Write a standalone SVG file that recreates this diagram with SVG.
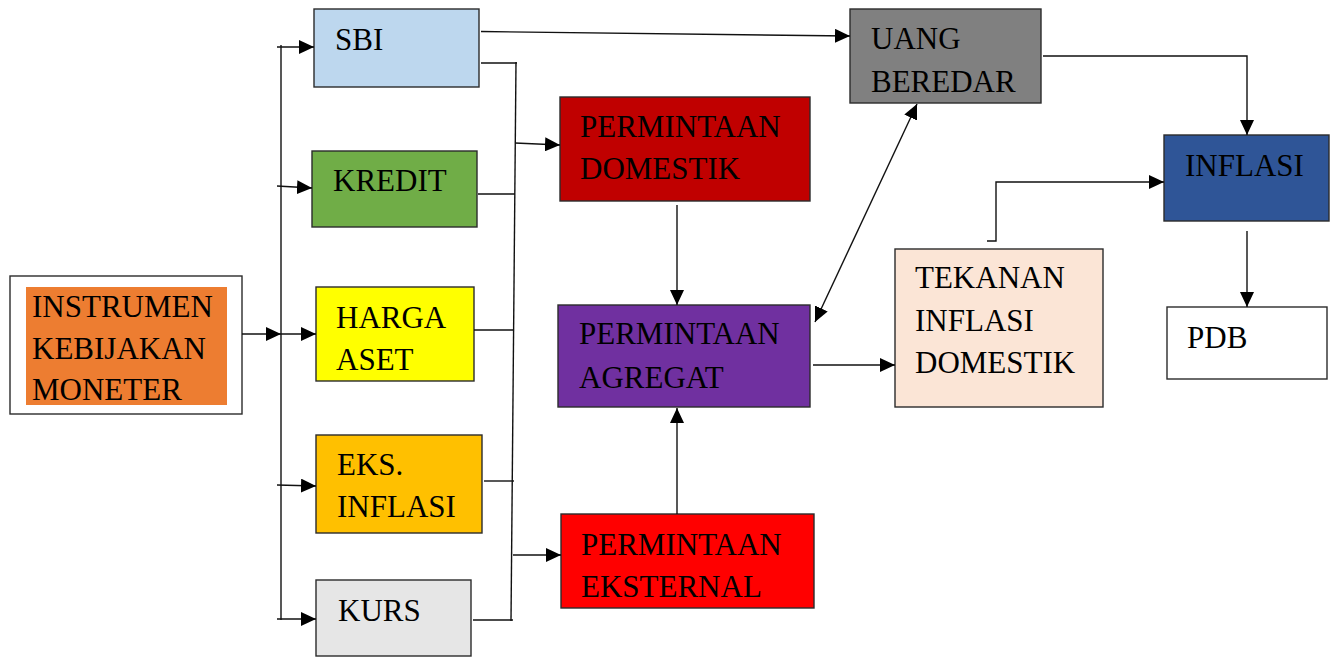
<svg xmlns="http://www.w3.org/2000/svg" width="1331" height="657" viewBox="0 0 1331 657">
<style>
.box{stroke:#2b2b2b;stroke-width:1.4}
text{font-size:31px;fill:#000}
.c{fill:none;stroke:#111;stroke-width:1.4}
</style>
<defs>
<marker id="ah" markerUnits="userSpaceOnUse" markerWidth="15" markerHeight="14" refX="15" refY="7" orient="auto-start-reverse" viewBox="0 0 15 14">
<path d="M0,0 L15,7 L0,14 z" fill="#000"/>
</marker>
</defs>
<rect width="1331" height="657" fill="#fff"/>
<g font-family="Times New Roman, Liberation Serif, serif">
<g id="instrumen">
<rect class="box" x="10" y="276" width="232" height="138" fill="#fff"/>
<rect x="26" y="287" width="201" height="118" fill="#ED7D31"/>
<text x="32" y="317">INSTRUMEN</text>
<text x="32" y="359">KEBIJAKAN</text>
<text x="32" y="400">MONETER</text>
</g>
<g id="sbi">
<rect class="box" x="314" y="9" width="165" height="78" fill="#BDD7EE"/>
<text x="335" y="50">SBI</text>
</g>
<g id="kredit">
<rect class="box" x="312" y="151" width="165" height="76" fill="#70AD47"/>
<text x="333" y="191">KREDIT</text>
</g>
<g id="harga-aset">
<rect class="box" x="316" y="287" width="158" height="94" fill="#FFFF00"/>
<text x="336" y="328">HARGA</text>
<text x="336" y="370">ASET</text>
</g>
<g id="eks-inflasi">
<rect class="box" x="316" y="435" width="166" height="98" fill="#FFC000"/>
<text x="337" y="475">EKS.</text>
<text x="337" y="517">INFLASI</text>
</g>
<g id="kurs">
<rect class="box" x="316" y="580" width="155" height="76" fill="#E6E6E6"/>
<text x="338" y="621">KURS</text>
</g>
<g id="permintaan-domestik">
<rect class="box" x="560" y="97" width="250" height="104" fill="#C00000"/>
<text x="580" y="137">PERMINTAAN</text>
<text x="580" y="179">DOMESTIK</text>
</g>
<g id="permintaan-agregat">
<rect class="box" x="558" y="305" width="252" height="102" fill="#7030A0"/>
<text x="579" y="344">PERMINTAAN</text>
<text x="579" y="388">AGREGAT</text>
</g>
<g id="permintaan-eksternal">
<rect class="box" x="561" y="514" width="253" height="94" fill="#FF0000"/>
<text x="581" y="555">PERMINTAAN</text>
<text x="581" y="597">EKSTERNAL</text>
</g>
<g id="uang-beredar">
<rect class="box" x="850" y="9" width="191" height="94" fill="#808080"/>
<text x="871" y="49">UANG</text>
<text x="871" y="92">BEREDAR</text>
</g>
<g id="tekanan">
<rect class="box" x="895" y="249" width="208" height="158" fill="#FBE5D6"/>
<text x="915" y="288">TEKANAN</text>
<text x="915" y="331">INFLASI</text>
<text x="915" y="373">DOMESTIK</text>
</g>
<g id="inflasi">
<rect class="box" x="1164" y="135" width="165" height="86" fill="#2F5597"/>
<text x="1185" y="176">INFLASI</text>
</g>
<g id="pdb">
<rect class="box" x="1167" y="307" width="160" height="72" fill="#fff"/>
<text x="1187" y="348">PDB</text>
</g>
</g>
<g id="connectors">
<line class="c" x1="242" y1="334" x2="281" y2="334" marker-end="url(#ah)"/>
<line class="c" x1="281" y1="334" x2="316" y2="334" marker-end="url(#ah)"/>
<line class="c" x1="281" y1="45" x2="281" y2="620"/>
<line class="c" x1="277" y1="47" x2="314" y2="47" marker-end="url(#ah)"/>
<line class="c" x1="277" y1="186" x2="312" y2="188" marker-end="url(#ah)"/>
<line class="c" x1="277" y1="485" x2="316" y2="486" marker-end="url(#ah)"/>
<line class="c" x1="277" y1="619" x2="316" y2="619" marker-end="url(#ah)"/>
<line class="c" x1="516" y1="62" x2="511" y2="621"/>
<line class="c" x1="481" y1="63" x2="517" y2="63"/>
<line class="c" x1="478" y1="194" x2="515" y2="194"/>
<line class="c" x1="474" y1="330" x2="513" y2="330"/>
<line class="c" x1="484" y1="481" x2="514" y2="481"/>
<line class="c" x1="473" y1="620" x2="513" y2="620"/>
<line class="c" x1="515" y1="143" x2="560" y2="145" marker-end="url(#ah)"/>
<line class="c" x1="513" y1="555" x2="561" y2="555" marker-end="url(#ah)"/>
<line class="c" x1="481" y1="31.5" x2="850" y2="36" marker-end="url(#ah)"/>
<line class="c" x1="677" y1="205" x2="677" y2="305" marker-end="url(#ah)"/>
<line class="c" x1="677" y1="514" x2="677" y2="408" marker-end="url(#ah)"/>
<line class="c" x1="815" y1="322" x2="917" y2="104" marker-start="url(#ah)" marker-end="url(#ah)"/>
<line class="c" x1="813" y1="365" x2="895" y2="365" marker-end="url(#ah)"/>
<path class="c" d="M987,241 H996 V182 H1164" marker-end="url(#ah)"/>
<path class="c" d="M1043,56 H1247 V135" marker-end="url(#ah)"/>
<line class="c" x1="1247" y1="231" x2="1247" y2="307" marker-end="url(#ah)"/>
</g>
</svg>
